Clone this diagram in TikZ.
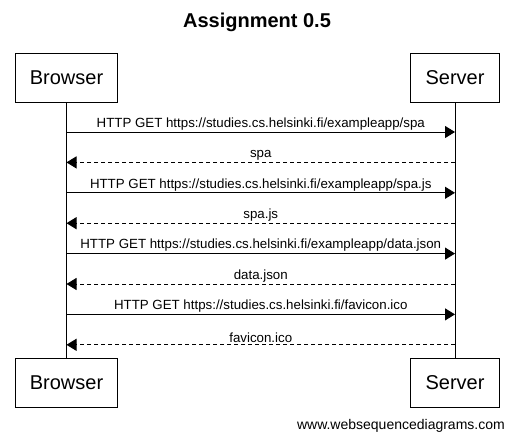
\documentclass[tikz,border=0pt]{standalone}
\usepackage{fontspec}
\setmainfont{Liberation Sans}
\usetikzlibrary{arrows.meta,positioning}

\tikzset{
  party/.style={draw, line width=1pt, minimum height=49pt, inner sep=0pt, font=\fontsize{20}{24}\selectfont},
  req/.style={line width=1pt, -{Triangle[length=10pt,width=12pt]}},
  resp/.style={req, dash pattern=on 4pt off 3pt},
  msg/.style={anchor=south, inner sep=1.5pt, font=\fontsize{13.3}{16}\selectfont}
}

\begin{document}
\begin{tikzpicture}[x=1pt,y=-1pt]
    \useasboundingbox (0,0) rectangle (514,442);

    \node [font=\bfseries\fontsize{20}{24}\selectfont] (title) at (257,22) {Assignment 0.5};

    \node [party, minimum width=102pt] (btop) at (66.5,77.5) {Browser};
    \node [party, minimum width=89pt] (stop) at (455,77.5) {Server};
    \node [party, minimum width=102pt] (bbot) at (66.5,382.5) {Browser};
    \node [party, minimum width=89pt] (sbot) at (455,382.5) {Server};

    \draw [line width=1pt] (btop.south) -- (bbot.north);
    \draw [line width=1pt] (stop.south) -- (sbot.north);

    \coordinate (b1) at (66.5,132);   \coordinate (s1) at (455,132);
    \coordinate (b2) at (66.5,162.4); \coordinate (s2) at (455,162.4);
    \coordinate (b3) at (66.5,192.8); \coordinate (s3) at (455,192.8);
    \coordinate (b4) at (66.5,223.2); \coordinate (s4) at (455,223.2);
    \coordinate (b5) at (66.5,253.6); \coordinate (s5) at (455,253.6);
    \coordinate (b6) at (66.5,284);   \coordinate (s6) at (455,284);
    \coordinate (b7) at (66.5,314.4); \coordinate (s7) at (455,314.4);
    \coordinate (b8) at (66.5,344.8); \coordinate (s8) at (455,344.8);

    \draw [req] (b1) -- node [msg] {HTTP GET https://studies.cs.helsinki.fi/exampleapp/spa} (s1);
    \draw [resp] (s2) -- node [msg] {spa} (b2);
    \draw [req] (b3) -- node [msg] {HTTP GET https://studies.cs.helsinki.fi/exampleapp/spa.js} (s3);
    \draw [resp] (s4) -- node [msg] {spa.js} (b4);
    \draw [req] (b5) -- node [msg] {HTTP GET https://studies.cs.helsinki.fi/exampleapp/data.json} (s5);
    \draw [resp] (s6) -- node [msg] {data.json} (b6);
    \draw [req] (b7) -- node [msg] {HTTP GET https://studies.cs.helsinki.fi/favicon.ico} (s7);
    \draw [resp] (s8) -- node [msg] {favicon.ico} (b8);

    \node [anchor=east, inner sep=0pt, font=\fontsize{14}{16}\selectfont] (wsd) at (505,426) {www.websequencediagrams.com};
\end{tikzpicture}
\end{document}
